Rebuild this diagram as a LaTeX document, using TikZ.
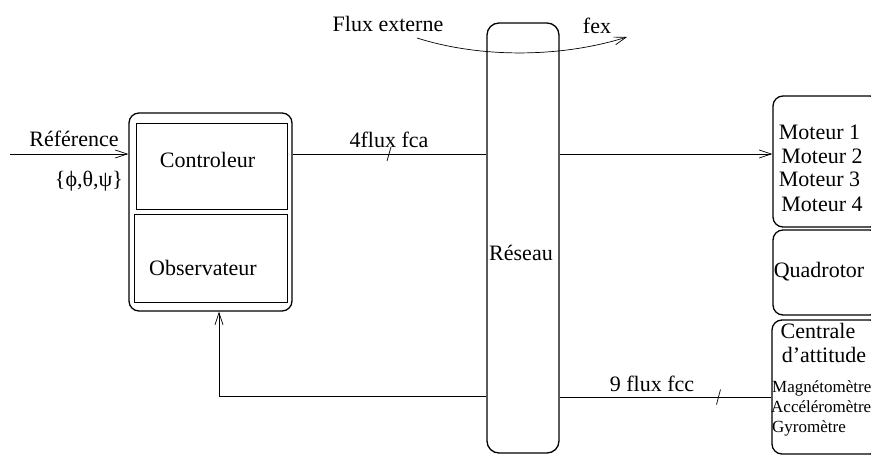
\documentclass[tikz,border=0pt]{standalone}
\usepackage{fontspec}
\setmainfont{Liberation Serif}
\usetikzlibrary{arrows.meta}
\begin{document}
\begin{tikzpicture}[x=1pt,y=-1pt,
  boxr/.style={draw,line width=1.3pt,rounded corners=10pt,inner sep=0pt},
  boxi/.style={draw,line width=0.8pt,inner sep=0pt},
  conn/.style={line width=0.7pt},
  tip/.style={-{Straight Barb[length=12pt,width=8pt,line width=0.7pt]}},
  txt/.style={inner sep=0pt,anchor=base,font=\fontsize{22}{24}\selectfont},
  stxt/.style={inner sep=0pt,anchor=base west,font=\fontsize{17}{19}\selectfont}]
\useasboundingbox (0,0) rectangle (871,455);
% boxes
\node[boxr,minimum width=163pt,minimum height=198pt] (outer) at (210.5,212) {};
\node[boxi,minimum width=151pt,minimum height=86pt] (ctrl) at (211.5,166) {};
\node[boxi,minimum width=153pt,minimum height=88pt] (obs) at (210.5,258) {};
\node[boxr,rounded corners=12pt,minimum width=72pt,minimum height=430pt] (reseau) at (523,238) {};
\node[boxr,minimum width=107pt,minimum height=131pt] (moteur) at (826.5,161.5) {};
\node[boxr,minimum width=107pt,minimum height=85pt] (quad) at (826.5,272.5) {};
\node[boxr,minimum width=108pt,minimum height=134pt] (centrale) at (826,387) {};
% texts
\node[txt] (tref) at (74,146) {Référence};
\node[txt] (tang) at (89,186) {\{ϕ,θ,ψ\}};
\node[txt] (tctrl) at (207.5,167) {Controleur};
\node[txt] (tobs) at (203,275) {Observateur};
\node[txt] (tres) at (521,260) {Réseau};
\node[txt] (tfca) at (389,147) {4flux fca};
\node[txt] (tfcc) at (652,391) {9 flux fcc};
\node[txt] (tflux) at (388,31) {Flux externe};
\node[txt] (tfex) at (597,34) {fex};
\node[txt] (m1) at (819.5,139) {Moteur 1};
\node[txt] (m2) at (822,163) {Moteur 2};
\node[txt] (m3) at (819.5,186) {Moteur 3};
\node[txt] (m4) at (822,211) {Moteur 4};
\node[txt] (tquad) at (819,277) {Quadrotor};
\node[txt] (tcen1) at (818,338) {Centrale};
\node[txt] (tcen2) at (824,362) {d’attitude};
\node[stxt] (s1) at (772,392) {Magnétomètre};
\node[stxt] (s2) at (771,412) {Accéléromètre};
\node[stxt] (s3) at (772,432) {Gyromètre};
% coordinates
\coordinate (in) at (10,154);
\coordinate (ya) at (0,154);
\coordinate (yb) at (0,397);
\coordinate (fb) at (219,396);
\coordinate (fx1) at (417,38);
\coordinate (fx2) at (627,37);
\coordinate (k1) at (389,154);
\coordinate (k2) at (718.5,397);
% connectors
\draw[conn,tip] (in) -- (in -| outer.west);
\draw[conn] (outer.east |- ya) -- (reseau.west |- ya);
\draw[conn,tip] (reseau.east |- ya) -- (moteur.west |- ya);
\draw[conn] (centrale.west |- yb) -- (reseau.east |- yb);
\draw[conn,tip] (reseau.west |- fb) -- (fb) -- (fb |- outer.south);
\draw[conn,tip] (fx1) .. controls (480,58) and (560,58) .. (fx2);
% ticks
\draw[conn] ([shift={(2,-7)}]k1) -- ([shift={(-2,7)}]k1);
\draw[conn] ([shift={(2,-7.5)}]k2) -- ([shift={(-2,7.5)}]k2);
\end{tikzpicture}
\end{document}
